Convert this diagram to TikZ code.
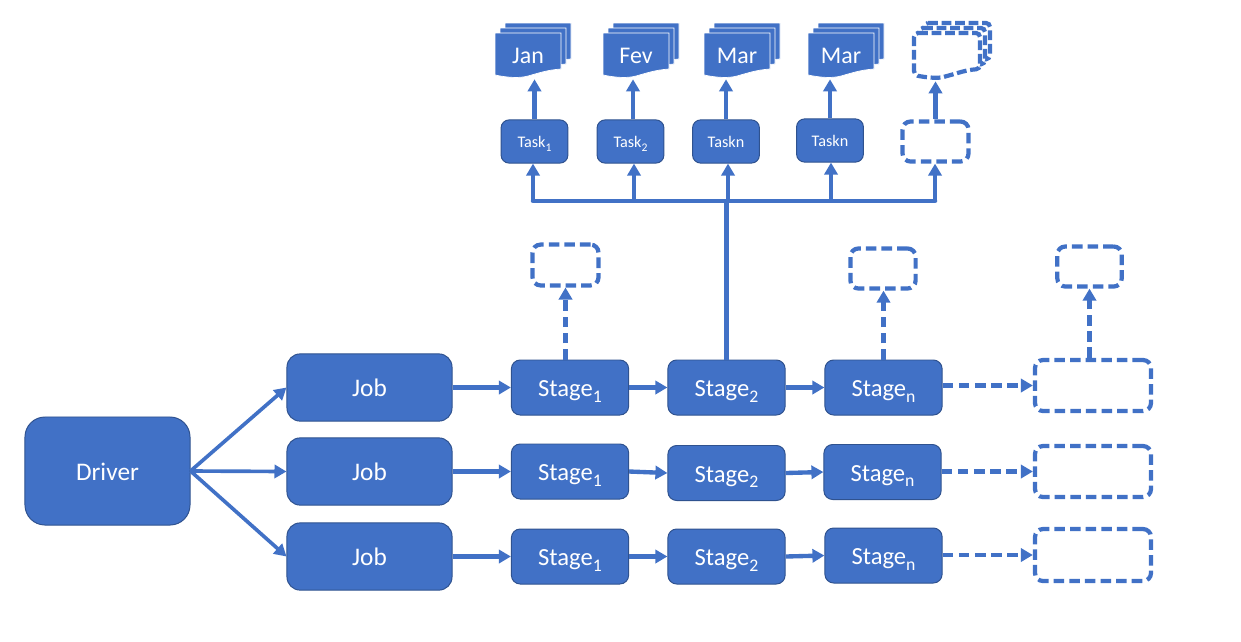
\documentclass[tikz,border=0pt]{standalone}
\usepackage{fontspec}
\setmainfont{Carlito}
\usepackage{tikz}
\usetikzlibrary{arrows.meta, positioning, calc}

\definecolor{boxblue}{HTML}{4171C6}
\definecolor{boxedge}{HTML}{2F528F}

\newcommand{\lowsub}[1]{\raisebox{-0.5ex}{\scalebox{0.72}{#1}}}

\tikzset{
    box/.style={fill=boxblue, draw=boxedge, line width=0.7pt, text=white, inner sep=0pt, text depth=0pt},
    driverbox/.style={box, minimum width=4.125cm, minimum height=2.7cm, rounded corners=0.5cm, text height=0.45cm, font=\fontsize{18}{20}\selectfont},
    jobbox/.style={box, minimum width=4.125cm, minimum height=1.68cm, rounded corners=0.33cm, text height=0.425cm, font=\fontsize{18}{20}\selectfont},
    stagebox/.style={box, minimum width=2.93cm, minimum height=1.375cm, rounded corners=0.22cm, text height=0.45cm, font=\fontsize{17.5}{20}\selectfont},
    taskbox/.style={box, minimum width=1.67cm, minimum height=1.08cm, rounded corners=0.2cm, text height=0.29cm, font=\fontsize{11.5}{13}\selectfont},
    emptybox/.style={draw=boxblue, fill=white, line width=3pt, inner sep=0pt, dash pattern=on 7.5pt off 3.6pt, rounded corners=0.2cm},
    doctext/.style={text=white, inner sep=0pt, minimum width=1.65cm, minimum height=1.15cm, font=\fontsize{17}{20}\selectfont},
    docsolid/.style={fill=boxblue, draw=white, line width=0.5pt},
    docdashed/.style={fill=white, draw=boxblue, line width=3pt, dash pattern=on 7pt off 2.6pt, rounded corners=0.1cm},
    link/.style={draw=boxblue, line width=3.1pt, -{Triangle[length=0.3cm, width=0.33cm]}},
    thinlink/.style={link, line width=2.6pt},
    dashlink/.style={link, dash pattern=on 7.5pt off 4pt},
    busline/.style={draw=boxblue, line width=3.2pt},
}

% three sheets, back one first: x, y of the front sheet, style
\newcommand{\docstack}[3]{
    \foreach \o in {10,5,0}
        \draw[#3, shift={(#1+\o,#2-\o)}] (0,0) -- (66,0) -- (66,36)
            .. controls (52,37) and (44,40) .. (33,43)
            .. controls (24,45.5) and (12,44.5) .. (0,42) -- cycle;
}

\begin{document}
\begin{tikzpicture}[x=0.025cm, y=-0.025cm]
    \useasboundingbox (0,0) rectangle (1241,641);

    % driver and jobs
    \node[driverbox] (driver) at (107.5,471) {Driver};
    \node[jobbox] (job1) at (369.5,387.5) {Job};
    \node[jobbox] (job2) at (369.5,471.5) {Job};
    \node[jobbox] (job3) at (369.5,556.5) {Job};

    % stages
    \node[stagebox] (stage11) at (570,387.5) {Stage\lowsub{1}};
    \node[stagebox] (stage12) at (726.5,387.5) {Stage\lowsub{2}};
    \node[stagebox] (stage13) at (883.5,387.5) {Stage\lowsub{n}};
    \node[stagebox] (stage21) at (570,471.5) {Stage\lowsub{1}};
    \node[stagebox] (stage22) at (726.5,473) {Stage\lowsub{2}};
    \node[stagebox] (stage23) at (882.5,472) {Stage\lowsub{n}};
    \node[stagebox] (stage31) at (570,556.5) {Stage\lowsub{1}};
    \node[stagebox] (stage32) at (726.5,556.5) {Stage\lowsub{2}};
    \node[stagebox] (stage33) at (883.5,555.5) {Stage\lowsub{n}};

    % empty boxes
    \node[emptybox, minimum width=2.9cm, minimum height=1.275cm] (end1) at (1093,385.5) {};
    \node[emptybox, minimum width=2.9cm, minimum height=1.275cm] (end2) at (1093,471.5) {};
    \node[emptybox, minimum width=2.9cm, minimum height=1.3cm] (end3) at (1093,555) {};
    \node[emptybox, minimum width=1.65cm, minimum height=1.02cm] (up1) at (565.5,265) {};
    \node[emptybox, minimum width=1.63cm, minimum height=1cm] (up2) at (883,268.5) {};
    \node[emptybox, minimum width=1.61cm, minimum height=1cm] (up3) at (1089.5,266.5) {};

    % tasks
    \node[taskbox] (task1) at (534.5,141.5) {Task\lowsub{1}};
    \node[taskbox] (task2) at (630.5,141.5) {Task\lowsub{2}};
    \node[taskbox] (task3) at (726,141.5) {Taskn};
    \node[taskbox] (task4) at (830,140.5) {Taskn};
    \node[emptybox, minimum width=1.65cm, minimum height=1cm] (task5) at (935.5,141.5) {};

    % documents
    \docstack{495}{33}{docsolid}
    \docstack{603}{33}{docsolid}
    \docstack{704}{33}{docsolid}
    \docstack{808}{33}{docsolid}
    \docstack{914}{33}{docdashed}
    \node[doctext] (doc1) at (528,56) {Jan};
    \node[doctext] (doc2) at (636,56) {Fev};
    \node[doctext] (doc3) at (737,56) {Mar};
    \node[doctext] (doc4) at (841,56) {Mar};
    \node[doctext] (doc5) at (935,58) {};

    % bus under the tasks
    \coordinate (bus1) at (533,201);
    \coordinate (bus2) at (634,201);
    \coordinate (bus3) at (728,201);
    \coordinate (bus4) at (831,201);
    \coordinate (bus5) at (935,201);
    \draw[busline] (stage12.north) -- (stage12.north |- bus1);
    \draw[busline, line cap=round] (bus1) -- (bus5);
    \foreach \n in {1,...,5}
        \draw[link] (bus\n) -- (bus\n |- task\n.south);

    \draw[link] (task1.north) -- (task1.north |- doc1.south);
    \draw[link] (633,0 |- task2.north) -- (633,0 |- doc2.south);
    \draw[link] (task3.north) -- (task3.north |- doc3.south);
    \draw[link] (task4.north) -- (task4.north |- doc4.south);
    \draw[link] (task5.north) -- (task5.north |- doc5.south);

    % driver to jobs
    \foreach \n in {1,2,3}
        \draw[thinlink] (driver.east) -- (job\n.west);

    % rows
    \foreach \r in {1,2,3} {
        \draw[link] (job\r.east) -- (stage\r1.west);
        \draw[link] (stage\r1.east) -- (stage\r2.west);
        \draw[link] (stage\r2.east) -- (stage\r3.west);
        \draw[dashlink] (stage\r3.east |- end\r.west) -- (end\r.west);
    }

    % dashed uplinks
    \draw[dashlink] (stage11.north -| up1.south) -- (up1.south);
    \draw[dashlink] (stage13.north) -- (stage13.north |- up2.south);
    \draw[dashlink] (end1.north -| up3.south) -- (up3.south);
\end{tikzpicture}
\end{document}
